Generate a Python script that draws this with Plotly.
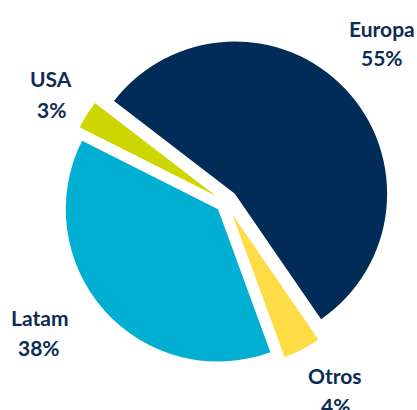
import plotly.graph_objects as go

labels = ["Europa", "Otros", "Latam", "USA"]
values = [55, 4, 38, 3]
pct_labels = ["55%", "4%", "38%", "3%"]
colors = ["#002C57", "#FDDC46", "#00AFD1", "#CDD600"]
pulls = [0.08, 0.09, 0.07, 0.08]

fig = go.Figure(go.Pie(
    labels=labels, values=values, sort=False, direction="clockwise",
    rotation=-52.5, pull=pulls, textinfo="none", hoverinfo="label+percent",
    marker=dict(colors=colors, line=dict(width=0)),
    domain=dict(x=[0.144, 0.94], y=[0.102, 0.912]),
    showlegend=False,
))

# (x, y of name line, y of percent line) in pixels from top-left
label_pos = [(382, 28, 57), (335, 375, 405), (39, 317, 347), (51, 79, 109)]
for name, pct, (px, py1, py2) in zip(labels, pct_labels, label_pos):
    for txt, py in ((name, py1), (pct, py2)):
        fig.add_annotation(
            x=px / 417, y=1 - py / 410, xref="paper", yref="paper",
            text=f"<b>{txt}</b>", showarrow=False,
            font=dict(family="Lato", size=21, color="#0B2D55"),
            align="center", xanchor="center", yanchor="middle",
        )

fig.update_layout(
    width=417, height=410, margin=dict(l=0, r=0, t=0, b=0),
    paper_bgcolor="white", plot_bgcolor="white",
)
fig.write_html("out.html", config={"displayModeBar": False},
               post_script="document.body.style.margin='0';")
